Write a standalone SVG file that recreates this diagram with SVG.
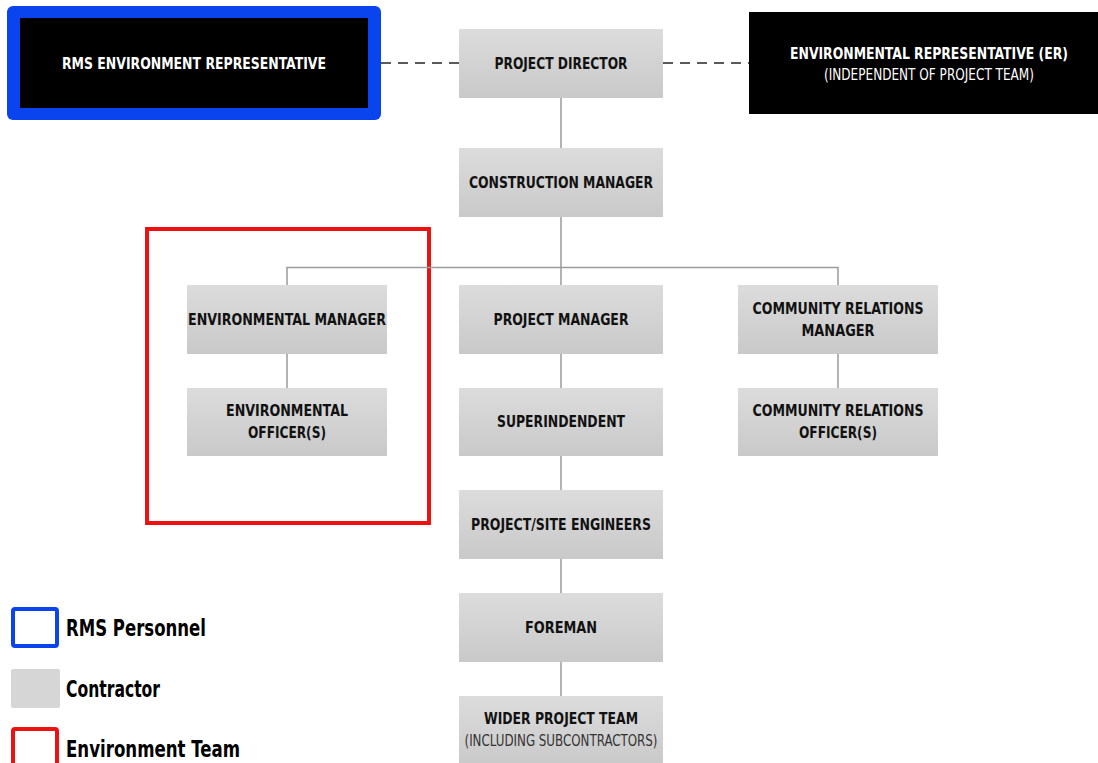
<svg xmlns="http://www.w3.org/2000/svg" width="1098" height="763" viewBox="0 0 1098 763">
  <defs>
    <linearGradient id="boxFill" x1="0" y1="0" x2="0" y2="1">
      <stop offset="0" stop-color="#dcdcdc"/>
      <stop offset="1" stop-color="#c9c9c9"/>
    </linearGradient>
    <style>
      .box { fill: url(#boxFill); }
      .dark { fill: #000000; }
      .lbl { font-family: "Liberation Sans Narrow", "DejaVu Sans Condensed", "Liberation Sans", sans-serif; font-weight: bold; font-size: 16px; fill: #111111; text-anchor: middle; }
      .wlbl { font-family: "Liberation Sans Narrow", "DejaVu Sans Condensed", "Liberation Sans", sans-serif; font-weight: bold; font-size: 16px; fill: #ffffff; text-anchor: middle; }
      .sub { font-family: "Liberation Sans Narrow", "DejaVu Sans Condensed", "Liberation Sans", sans-serif; font-weight: normal; font-size: 15px; text-anchor: middle; }
      .link { stroke: #9a9a9a; stroke-width: 1.5; fill: none; }
      .dash { stroke: #5a5a5a; stroke-width: 2; stroke-dasharray: 10 7; fill: none; }
      .leg { font-family: "Liberation Sans Narrow", "DejaVu Sans Condensed", "Liberation Sans", sans-serif; font-weight: bold; font-size: 23px; fill: #000000; }
    </style>
  </defs>
  <rect width="1098" height="763" fill="#ffffff"/>

  <!-- environment team boundary -->
  <rect id="env-team" x="147" y="229" width="282" height="294" fill="none" stroke="#ee1111" stroke-width="4"/>

  <!-- connectors -->
  <g id="connectors">
    <line class="dash" x1="381" y1="63" x2="459" y2="63"/>
    <line class="dash" x1="663" y1="63" x2="749" y2="63"/>
    <line class="link" x1="561" y1="98" x2="561" y2="148"/>
    <line class="link" x1="561" y1="217" x2="561" y2="285"/>
    <polyline class="link" points="287,285 287,267.5 838,267.5 838,285"/>
    <line class="link" x1="287" y1="354" x2="287" y2="388"/>
    <line class="link" x1="838" y1="354" x2="838" y2="388"/>
    <line class="link" x1="561" y1="354" x2="561" y2="388"/>
    <line class="link" x1="561" y1="456" x2="561" y2="490"/>
    <line class="link" x1="561" y1="559" x2="561" y2="593"/>
    <line class="link" x1="561" y1="662" x2="561" y2="696"/>
  </g>

  <g id="rms-rep">
    <rect x="7" y="6" width="374" height="114" rx="6" fill="#0a44ee"/>
    <rect class="dark" x="20" y="18" width="348" height="90"/>
    <text class="wlbl" x="194" y="69" textLength="264" lengthAdjust="spacingAndGlyphs">RMS ENVIRONMENT REPRESENTATIVE</text>
  </g>

  <g id="project-director">
    <rect class="box" x="459" y="29" width="204" height="69"/>
    <text class="lbl" x="561" y="69" textLength="133" lengthAdjust="spacingAndGlyphs">PROJECT DIRECTOR</text>
  </g>

  <g id="env-rep">
    <rect class="dark" x="749" y="12" width="349" height="102"/>
    <text class="wlbl" x="929" y="59" textLength="278" lengthAdjust="spacingAndGlyphs">ENVIRONMENTAL REPRESENTATIVE (ER)</text>
    <text class="sub" x="929" y="80" fill="#ffffff" textLength="210" lengthAdjust="spacingAndGlyphs">(INDEPENDENT OF PROJECT TEAM)</text>
  </g>

  <g id="construction-manager">
    <rect class="box" x="459" y="148" width="204" height="69"/>
    <text class="lbl" x="561" y="188" textLength="184" lengthAdjust="spacingAndGlyphs">CONSTRUCTION MANAGER</text>
  </g>

  <g id="environmental-manager">
    <rect class="box" x="187" y="285" width="200" height="69"/>
    <text class="lbl" x="287" y="325" textLength="198" lengthAdjust="spacingAndGlyphs">ENVIRONMENTAL MANAGER</text>
  </g>

  <g id="project-manager">
    <rect class="box" x="459" y="285" width="204" height="69"/>
    <text class="lbl" x="561" y="325" textLength="135" lengthAdjust="spacingAndGlyphs">PROJECT MANAGER</text>
  </g>

  <g id="community-relations-manager">
    <rect class="box" x="738" y="285" width="200" height="69"/>
    <text class="lbl" x="838" y="314" textLength="171" lengthAdjust="spacingAndGlyphs">COMMUNITY RELATIONS</text>
    <text class="lbl" x="838" y="336" textLength="73" lengthAdjust="spacingAndGlyphs">MANAGER</text>
  </g>

  <g id="environmental-officers">
    <rect class="box" x="187" y="388" width="200" height="68"/>
    <text class="lbl" x="287" y="416" textLength="122" lengthAdjust="spacingAndGlyphs">ENVIRONMENTAL</text>
    <text class="lbl" x="287" y="438" textLength="78" lengthAdjust="spacingAndGlyphs">OFFICER(S)</text>
  </g>

  <g id="superintendent">
    <rect class="box" x="459" y="388" width="204" height="68"/>
    <text class="lbl" x="561" y="427" textLength="128" lengthAdjust="spacingAndGlyphs">SUPERINDENDENT</text>
  </g>

  <g id="community-relations-officers">
    <rect class="box" x="738" y="388" width="200" height="68"/>
    <text class="lbl" x="838" y="416" textLength="171" lengthAdjust="spacingAndGlyphs">COMMUNITY RELATIONS</text>
    <text class="lbl" x="838" y="438" textLength="78" lengthAdjust="spacingAndGlyphs">OFFICER(S)</text>
  </g>

  <g id="site-engineers">
    <rect class="box" x="459" y="490" width="204" height="69"/>
    <text class="lbl" x="561" y="530" textLength="180" lengthAdjust="spacingAndGlyphs">PROJECT/SITE ENGINEERS</text>
  </g>

  <g id="foreman">
    <rect class="box" x="459" y="593" width="204" height="69"/>
    <text class="lbl" x="561" y="633" textLength="72" lengthAdjust="spacingAndGlyphs">FOREMAN</text>
  </g>

  <g id="wider-team">
    <rect class="box" x="459" y="696" width="204" height="70"/>
    <text class="lbl" x="561" y="724" textLength="154" lengthAdjust="spacingAndGlyphs">WIDER PROJECT TEAM</text>
    <text class="sub" x="561" y="746" fill="#333333" textLength="193" lengthAdjust="spacingAndGlyphs">(INCLUDING SUBCONTRACTORS)</text>
  </g>

  <!-- legend -->
  <g id="legend">
    <rect x="13" y="609" width="44" height="37" rx="2" fill="#ffffff" stroke="#0a44ee" stroke-width="4"/>
    <text class="leg" x="66" y="636" textLength="140" lengthAdjust="spacingAndGlyphs">RMS Personnel</text>
    <rect x="11" y="669" width="49" height="39" rx="2" fill="#d6d6d6"/>
    <text class="leg" x="66" y="697" textLength="94" lengthAdjust="spacingAndGlyphs">Contractor</text>
    <rect x="13" y="729" width="44" height="40" rx="2" fill="#ffffff" stroke="#ee1111" stroke-width="4"/>
    <text class="leg" x="66" y="757" textLength="174" lengthAdjust="spacingAndGlyphs">Environment Team</text>
  </g>
</svg>
